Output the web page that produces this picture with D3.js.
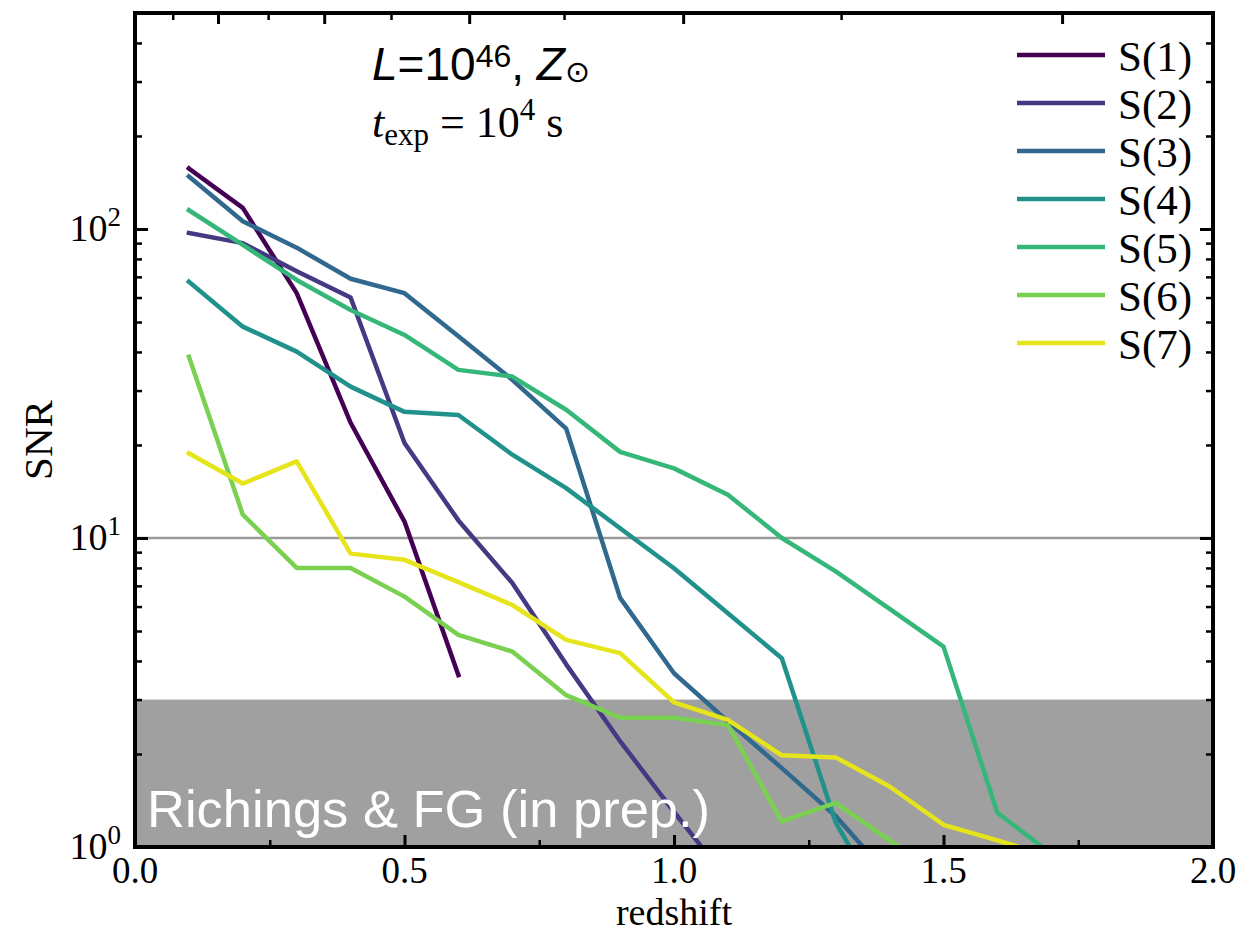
<!DOCTYPE html>
<html>
<head>
<meta charset="utf-8">
<script src="https://cdn.jsdelivr.net/npm/d3@7"></script>
<style>
  body { margin: 0; background: #fff; }
</style>
</head>
<body>
<div id="chart"></div>
<script>
// redshift grid of the simulations
const redshift = [0.1, 0.2, 0.3, 0.4, 0.5, 0.6, 0.7, 0.8, 0.9, 1.0, 1.1, 1.2, 1.3, 1.4, 1.5, 1.6, 1.7];

const seriesNames = ["S(1)", "S(2)", "S(3)", "S(4)", "S(5)", "S(6)", "S(7)"];

// SNR per species
const snrS1 = [157, 117, 62, 23.6, 11.3, 3.6];
const snrS2 = [97, 90, 73, 60, 20.3, 11.4, 7.15, 3.9, 2.2, 1.3, 0.78];
const snrS3 = [148, 106, 87, 69, 62, 45, 32.5, 22.6, 6.4, 3.65, 2.55, 1.8, 1.26, 0.8];
const snrS4 = [67.5, 48.3, 40.1, 30.9, 25.6, 25.0, 18.6, 14.5, 10.75, 7.98, 5.71, 4.08, 1.2, 0.6];
const snrS5 = [115, 88.8, 68.4, 54.7, 45.4, 35, 33.3, 26, 19, 16.8, 13.8, 10, 7.8, 5.9, 4.45, 1.29, 0.95];
const snrS6 = [38.6, 11.9, 8.0, 8.0, 6.46, 4.86, 4.29, 3.1, 2.62, 2.62, 2.48, 1.21, 1.39, 1.05, 0.8];
const snrS7 = [18.8, 15.0, 17.7, 8.9, 8.5, 7.2, 6.07, 4.68, 4.24, 2.94, 2.58, 1.98, 1.95, 1.57, 1.18, 1.05, 0.93];

const seriesColors = ["#440154", "#443983", "#31688e", "#21918c", "#35b779", "#7ad151", "#e6e41a"];

// axis ticks
const xTickValues = [0, 0.5, 1.0, 1.5, 2.0];
const xTickLabels = ["0.0", "0.5", "1.0", "1.5", "2.0"];
const xMinorTicks = [0.25, 0.75, 1.25, 1.75];
const yTickValues = [1, 10, 100];
const yTickExponents = ["0", "1", "2"];
// unlabeled top axis ticks (lookback time), given as redshift
const topMajorZ = [0.154, 0.351, 0.62, 1.017, 1.72];
const topMinorZ = [0.07, 0.247, 0.475, 0.796, 1.31];

const snrLine = 10;
const shadeTop = 3;

const allSeries = [snrS1, snrS2, snrS3, snrS4, snrS5, snrS6, snrS7].map((vals, i) => ({
  name: seriesNames[i],
  color: seriesColors[i],
  points: vals.map((v, j) => ({ z: redshift[j], snr: v }))
}));

const width = 1256, height = 934;
const margin = { top: 13, right: 43, bottom: 87, left: 135 };

const svg = d3.select("#chart").append("svg")
  .attr("width", width)
  .attr("height", height);

const x = d3.scaleLinear().domain([0, 2]).range([margin.left, width - margin.right]);
const y = d3.scaleLog().domain([1, 500]).range([height - margin.bottom, margin.top]);

const serif = "'Liberation Serif', 'DejaVu Serif', serif";
const sans = "'Liberation Sans', Arial, sans-serif";

svg.append("clipPath").attr("id", "plotclip")
  .append("rect")
  .attr("x", x(0)).attr("y", y(500))
  .attr("width", x(2) - x(0)).attr("height", y(1) - y(500));

const plot = svg.append("g").attr("clip-path", "url(#plotclip)");

// shaded detection-limit band
plot.append("rect")
  .attr("x", x(0)).attr("width", x(2) - x(0))
  .attr("y", y(shadeTop)).attr("height", y(1) - y(shadeTop))
  .attr("fill", "#a0a0a0");

// SNR = 10 line
plot.append("line")
  .attr("x1", x(0)).attr("x2", x(2))
  .attr("y1", y(snrLine)).attr("y2", y(snrLine))
  .attr("stroke", "#9a9a9a")
  .attr("stroke-width", 2.5);

const line = d3.line()
  .x(d => x(d.z))
  .y(d => y(d.snr));

plot.selectAll("path.series")
  .data(allSeries)
  .join("path")
  .attr("class", "series")
  .attr("fill", "none")
  .attr("stroke", d => d.color)
  .attr("stroke-width", 4.5)
  .attr("stroke-linejoin", "round")
  .attr("stroke-linecap", "square")
  .attr("d", d => line(d.points));

// text in the band
svg.append("text")
  .attr("x", 147).attr("y", 827)
  .attr("fill", "#fff")
  .style("font-family", sans)
  .style("font-size", "52.5px")
  .text("Richings & FG (in prep.)");

// annotation
const t1 = svg.append("text")
  .attr("x", 372).attr("y", 80)
  .style("font-family", sans)
  .style("font-size", "46px");
t1.append("tspan").style("font-style", "italic").text("L");
t1.append("tspan").text("=10");
t1.append("tspan").attr("dy", -13).style("font-size", "32px").text("46");
t1.append("tspan").attr("dy", 13).text(", ");
t1.append("tspan").style("font-style", "italic").text("Z");
t1.append("tspan").attr("dy", 2).style("font-size", "30px")
  .style("font-family", "'DejaVu Sans', sans-serif").text("\u2299");

const t2 = svg.append("text")
  .attr("x", 372).attr("y", 137)
  .style("font-family", serif)
  .style("font-size", "44px");
t2.append("tspan").style("font-style", "italic").text("t");
t2.append("tspan").attr("dy", 8).style("font-size", "31px").text("exp");
t2.append("tspan").attr("dy", -8).text(" = 10");
t2.append("tspan").attr("dy", -17).style("font-size", "31px").text("4");
t2.append("tspan").attr("dy", 17).text(" s");

// axes: ticks pointing inward on all four sides
function styleAxis(g) {
  g.select(".domain").remove();
  g.selectAll(".tick line").attr("stroke", "#000").attr("stroke-width", 3);
  g.selectAll(".tick text").remove();
}

const yMinor = [];
[1, 10, 100].forEach(dec => d3.range(2, 10).forEach(m => { if (dec * m < 500) yMinor.push(dec * m); }));

// bottom
svg.append("g").attr("transform", `translate(0,${y(1)})`)
  .call(d3.axisBottom(x).tickValues(xTickValues).tickSize(-12).tickFormat(""))
  .call(styleAxis);
svg.append("g").attr("transform", `translate(0,${y(1)})`)
  .call(d3.axisBottom(x).tickValues(xMinorTicks).tickSize(-7).tickFormat(""))
  .call(styleAxis)
  .selectAll(".tick line").attr("stroke-width", 2.5);

// top (lookback time ticks, unlabeled)
svg.append("g").attr("transform", `translate(0,${y(500)})`)
  .call(d3.axisTop(x).tickValues(topMajorZ).tickSize(-11).tickFormat(""))
  .call(styleAxis);
svg.append("g").attr("transform", `translate(0,${y(500)})`)
  .call(d3.axisTop(x).tickValues(topMinorZ).tickSize(-7).tickFormat(""))
  .call(styleAxis)
  .selectAll(".tick line").attr("stroke-width", 2.5);

// left and right
[[d3.axisLeft, x(0)], [d3.axisRight, x(2)]].forEach(([ax, pos]) => {
  svg.append("g").attr("transform", `translate(${pos},0)`)
    .call(ax(y).tickValues(yTickValues).tickSize(-13).tickFormat(""))
    .call(styleAxis);
  svg.append("g").attr("transform", `translate(${pos},0)`)
    .call(ax(y).tickValues(yMinor).tickSize(-7).tickFormat(""))
    .call(styleAxis)
    .selectAll(".tick line").attr("stroke-width", 2.5);
});

// tick labels
svg.append("g").selectAll("text")
  .data(xTickValues)
  .join("text")
  .attr("x", d => x(d))
  .attr("y", 883)
  .attr("text-anchor", "middle")
  .style("font-family", serif)
  .style("font-size", "37px")
  .text((d, i) => xTickLabels[i]);

const yLab = svg.append("g").selectAll("text")
  .data(yTickValues)
  .join("text")
  .attr("x", 121)
  .attr("y", d => y(d) + 12)
  .attr("text-anchor", "end")
  .style("font-family", serif)
  .style("font-size", "38px");
yLab.append("tspan").text("10");
yLab.append("tspan").attr("dy", -15).style("font-size", "27px").text((d, i) => yTickExponents[i]);

// axis titles
svg.append("text")
  .attr("x", x(1)).attr("y", 925)
  .attr("text-anchor", "middle")
  .style("font-family", serif)
  .style("font-size", "38px")
  .text("redshift");

svg.append("text")
  .attr("transform", `translate(52,${(y(1) + y(500)) / 2 + 10}) rotate(-90)`)
  .attr("text-anchor", "middle")
  .style("font-family", serif)
  .style("font-size", "41px")
  .text("SNR");

// frame
svg.append("rect")
  .attr("x", x(0)).attr("y", y(500))
  .attr("width", x(2) - x(0)).attr("height", y(1) - y(500))
  .attr("fill", "none")
  .attr("stroke", "#000")
  .attr("stroke-width", 4);

// legend
const legend = svg.append("g").selectAll("g")
  .data(allSeries)
  .join("g")
  .attr("transform", (d, i) => `translate(1017,${55 + i * 48})`);
legend.append("line")
  .attr("x1", 0).attr("x2", 88)
  .attr("stroke", d => d.color)
  .attr("stroke-width", 4.5);
legend.append("text")
  .attr("x", 101).attr("y", 16)
  .style("font-family", serif)
  .style("font-size", "43px")
  .text(d => d.name);
</script>
</body>
</html>
